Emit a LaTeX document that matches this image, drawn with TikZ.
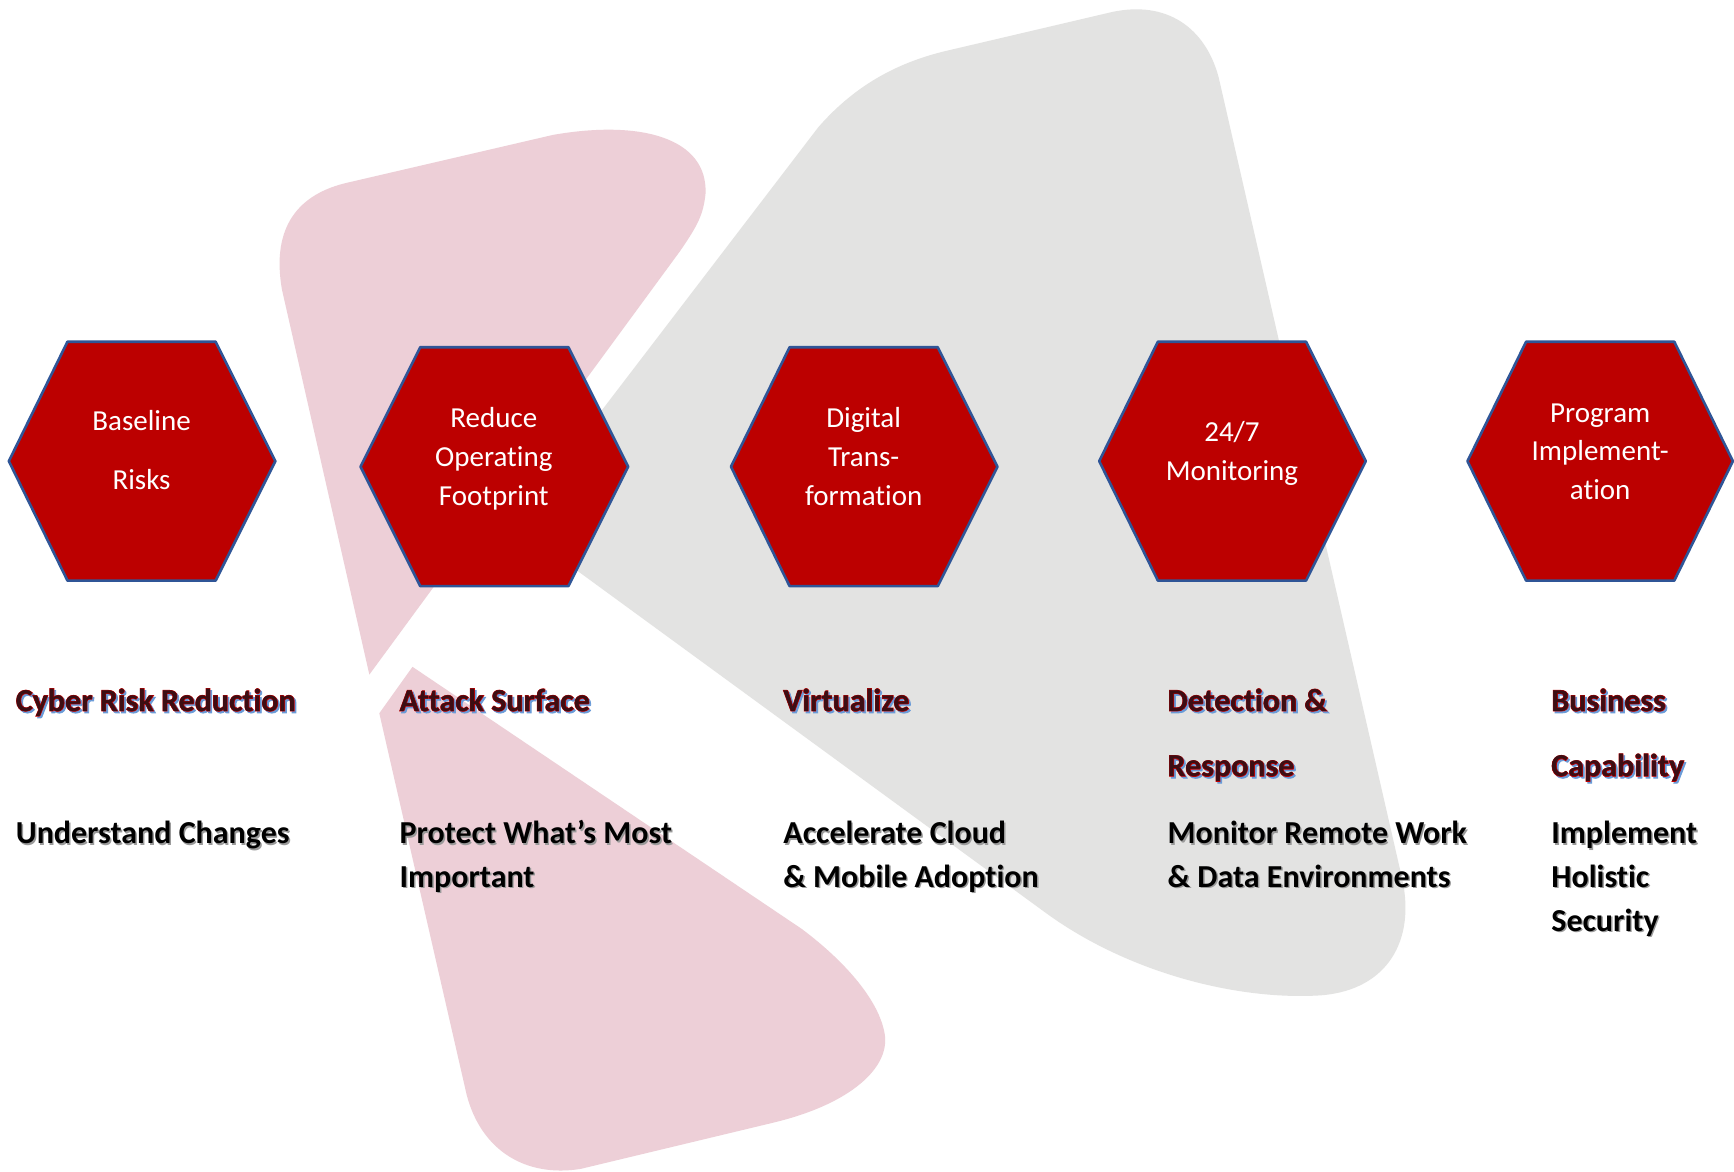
\documentclass[tikz,border=0pt]{standalone}
\usepackage{fontspec}
\setmainfont[Ligatures=NoCommon]{Carlito}
\newfontfamily\boldf[UprightFont={* Bold},Ligatures=NoCommon]{Carlito}
\newfontfamily\boldfat[UprightFont={* Bold},FakeBold=2.6,Ligatures=NoCommon]{Carlito}
\definecolor{pinkbg}{HTML}{EDCFD7}
\definecolor{graybg}{HTML}{E3E3E2}
\definecolor{hexfill}{HTML}{BC0000}
\definecolor{hexline}{HTML}{2F5597}
\definecolor{headred}{HTML}{C80000}
\definecolor{headdark}{HTML}{3C0E14}
\definecolor{headblue}{HTML}{6A9BD8}
\definecolor{bodyshadow}{HTML}{9A9A9A}
\newcommand{\headtxt}[1]{\fontsize{16}{16}\selectfont\rlap{\raisebox{-0.9pt}{\kern0.9pt\boldfat\color{headblue}#1}}\rlap{\boldfat\color{headred}#1}{\boldf\color{headdark}#1}}
\newcommand{\bodytxt}[1]{\fontsize{16}{16}\selectfont\rlap{\raisebox{-0.7pt}{\kern0.7pt\boldf\color{bodyshadow}#1}}{\boldf\color{black}#1}}
\tikzset{
  hexa/.style={fill=hexfill,draw=hexline,line width=1.3pt,line join=round},
  hextext/.style={text=white,align=center,font=\fontsize{14.5}{19.4}\selectfont,inner sep=0pt},
  lab/.style={anchor=base west,inner sep=0pt}
}
\begin{document}
\begin{tikzpicture}[x=0.55296pt,y=-0.55296pt]
\useasboundingbox (0,0) rectangle (1568,1059);
\fill[white] (0,0) rectangle (1568,1059);
% background mark
\fill[pinkbg] (334,610) -- (255,262) .. controls (245,205) and (270,175) .. (315,165)
  -- (500,122) .. controls (580,108) and (640,125) .. (638,175)
  .. controls (636,195) and (630,205) .. (615,227) -- cycle;
\fill[pinkbg] (373,603) -- (343,645) -- (422,990) .. controls (435,1040) and (475,1065) .. (525,1057)
  -- (700,1015) .. controls (770,998) and (805,965) .. (800,935)
  .. controls (795,905) and (765,870) .. (725,840) -- cycle;
\fill[graybg] (545,370) -- (740,115) .. controls (775,75) and (815,55) .. (860,45)
  -- (1005,11) .. controls (1055,0) and (1090,25) .. (1102,70)
  -- (1268,795) .. controls (1280,850) and (1255,895) .. (1195,900)
  .. controls (1120,905) and (1020,880) .. (945,825)
  -- (500,500) -- (470,440) -- cycle;
% hexagons
\path[hexa] (8,417) -- (61,309) -- (195,309) -- (249,417) -- (195,525) -- (61,525) -- cycle;
\path[hexa] (326,422) -- (380,314) -- (514,314) -- (568,422) -- (514,530) -- (380,530) -- cycle;
\path[hexa] (661,422) -- (714,314) -- (848,314) -- (902,422) -- (848,530) -- (714,530) -- cycle;
\path[hexa] (994,417) -- (1047,309) -- (1181,309) -- (1235,417) -- (1181,525) -- (1047,525) -- cycle;
\path[hexa] (1327,417) -- (1380,309) -- (1514,309) -- (1567,417) -- (1514,525) -- (1380,525) -- cycle;
\node[hextext] (h1) at (128,407) {Baseline\\[10.5pt]Risks};
\node[hextext] (h2) at (446.5,415) {Reduce\\Operating\\Footprint};
\node[hextext] (h3) at (781,413) {Digital\\Trans-\\formation};
\node[hextext] (h4) at (1114,410) {24/7\\Monitoring};
\node[hextext] (h5) at (1447,408.5) {Program\\Implement-\\ation};
% headings
\node[lab] (a1) at (14,643) {\headtxt{Cyber Risk Reduction}};
\node[lab] (a2) at (361,643) {\headtxt{Attack Surface}};
\node[lab] (a3) at (708,643) {\headtxt{Virtualize}};
\node[lab] (a4) at (1055.5,643) {\headtxt{Detection \&}};
\node[lab] (a5) at (1055.5,702) {\headtxt{Response}};
\node[lab] (a6) at (1402.5,643) {\headtxt{Business}};
\node[lab] (a7) at (1402.5,702) {\headtxt{Capability}};
% body
\node[lab] (b1) at (14,763) {\bodytxt{Understand Changes}};
\node[lab] (b2) at (361,763) {\bodytxt{Protect What’s Most}};
\node[lab] (b3) at (361,802.5) {\bodytxt{Important}};
\node[lab] (b4) at (708,763) {\bodytxt{Accelerate Cloud}};
\node[lab] (b5) at (708,802.5) {\bodytxt{\& Mobile Adoption}};
\node[lab] (b6) at (1055.5,763) {\bodytxt{Monitor Remote Work}};
\node[lab] (b7) at (1055.5,802.5) {\bodytxt{\& Data Environments}};
\node[lab] (b8) at (1402.5,763) {\bodytxt{Implement}};
\node[lab] (b9) at (1402.5,802.5) {\bodytxt{Holistic}};
\node[lab] (b10) at (1402.5,842) {\bodytxt{Security}};
\end{tikzpicture}
\end{document}
